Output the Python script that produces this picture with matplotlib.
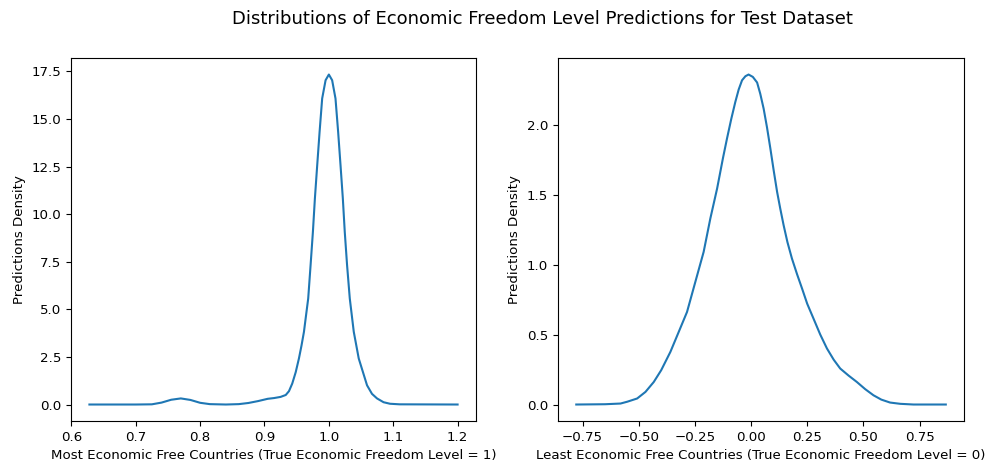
import matplotlib
matplotlib.use("Agg")
import matplotlib.pyplot as plt

# densidad de predicciones, paises mas libres (valor real = 1)
most_x = [0.628, 0.70, 0.725, 0.74, 0.755, 0.77, 0.785, 0.80, 0.815, 0.84, 0.86,
          0.875, 0.89, 0.905, 0.915, 0.925, 0.933, 0.938, 0.9431, 0.9485, 0.9535,
          0.9575, 0.9613, 0.9646, 0.9679, 0.9716, 0.9752, 0.9783, 0.9819, 0.9856,
          0.9896, 0.9949, 1.0, 1.0051, 1.0103, 1.0144, 1.0181, 1.0217, 1.0247,
          1.0283, 1.0325, 1.0387, 1.0464, 1.0593, 1.067, 1.0748, 1.085, 1.095,
          1.11, 1.2]
most_y = [0.0, 0.0, 0.01, 0.1, 0.25, 0.32, 0.24, 0.09, 0.02, 0.0, 0.02,
          0.08, 0.18, 0.30, 0.34, 0.40, 0.50, 0.70, 1.10, 1.7, 2.42,
          3.1, 3.82, 4.7, 5.57, 7.32, 9.07, 10.83, 12.58, 14.33,
          16.08, 17.04, 17.34, 17.04, 16.08, 14.33, 12.58, 10.83, 9.07,
          7.32, 5.57, 3.82, 2.42, 1.01, 0.56, 0.32, 0.12, 0.04,
          0.01, 0.0]

# densidad de predicciones, paises menos libres (valor real = 0)
least_x = [-0.778, -0.65, -0.581, -0.551, -0.507, -0.47, -0.433, -0.40, -0.359,
           -0.32, -0.285, -0.25, -0.211, -0.181, -0.151, -0.125, -0.107, -0.088,
           -0.070, -0.055, -0.040, -0.025, -0.011, 0.008, 0.027, 0.041, 0.056,
           0.071, 0.086, 0.101, 0.116, 0.13, 0.145, 0.162, 0.182, 0.205, 0.227,
           0.25, 0.278, 0.308, 0.338, 0.368, 0.397, 0.434, 0.471, 0.508, 0.545,
           0.58, 0.619, 0.664, 0.723, 0.867]
least_y = [0.0, 0.002, 0.007, 0.02, 0.043, 0.09, 0.161, 0.245, 0.376,
           0.526, 0.661, 0.864, 1.09, 1.33, 1.543, 1.76, 1.90, 2.04,
           2.161, 2.25, 2.316, 2.345, 2.357, 2.34, 2.30, 2.22, 2.114,
           1.98, 1.829, 1.67, 1.519, 1.40, 1.281, 1.16, 1.043, 0.93, 0.829,
           0.72, 0.614, 0.50, 0.40, 0.32, 0.257, 0.207, 0.161, 0.11, 0.066,
           0.035, 0.014, 0.005, 0.0, 0.0]

fig = plt.figure(figsize=(9.89, 4.68), dpi=100)
ax1 = fig.add_axes([0.0718, 0.1004, 0.4095, 0.7756])
ax2 = fig.add_axes([0.564, 0.1004, 0.411, 0.7756])

ax1.plot(most_x, most_y, color="#1f77b4", linewidth=1.5)
ax1.set_xlabel("Most Economic Free Countries (True Economic Freedom Level = 1)", fontsize=9.6)
ax1.set_ylabel("Predictions Density", fontsize=9.6)

ax2.plot(least_x, least_y, color="#1f77b4", linewidth=1.5)
ax2.set_xlabel("Least Economic Free Countries (True Economic Freedom Level = 0)", fontsize=9.6)
ax2.set_ylabel("Predictions Density", fontsize=9.6)

for ax in (ax1, ax2):
    ax.tick_params(labelsize=9.6)

fig.suptitle("Distributions of Economic Freedom Level Predictions for Test Dataset",
             fontsize=13, x=0.548, y=0.978)

fig.savefig("out.png", dpi=100)
